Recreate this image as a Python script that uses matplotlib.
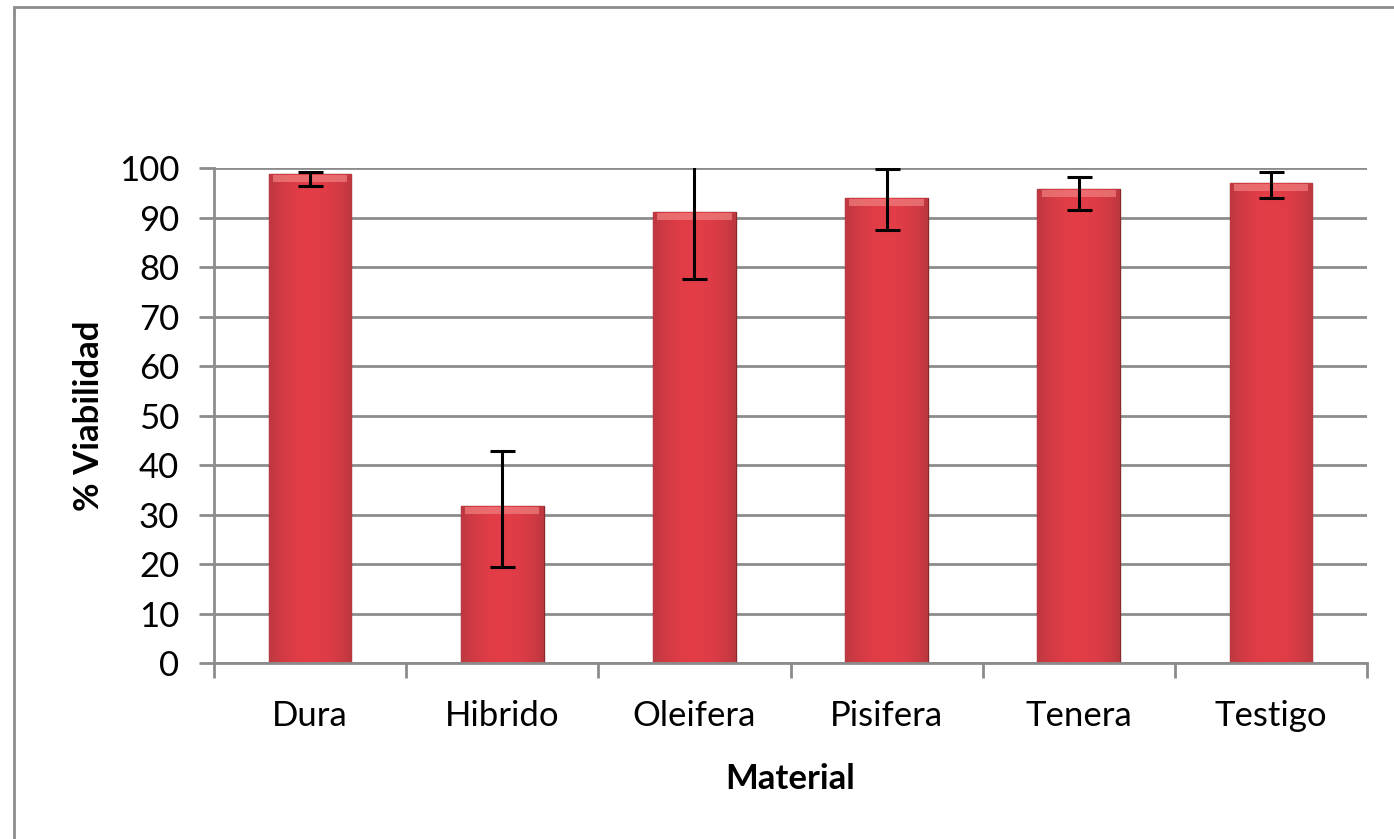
import matplotlib.pyplot as plt
from matplotlib.patches import Rectangle
import numpy as np

plt.rcParams['font.family'] = ['Lato', 'DejaVu Sans']

materials = ['Dura', 'Hibrido', 'Oleifera', 'Pisifera', 'Tenera', 'Testigo']
viabilidad = [98.9, 31.8, 91.2, 94.0, 95.9, 97.1]
err_low = [2.5, 12.4, 13.6, 6.5, 4.3, 3.1]
err_high = [0.4, 11.1, 13.6, 5.8, 2.3, 2.2]

W, H = 1394, 839
fig = plt.figure(figsize=(W / 100, H / 100), dpi=100)
fig.patch.set_facecolor('white')

# outer chart border (only left/top visible in the reference)
fig.patches.append(Rectangle((14 / W, -0.1), 1.2, (H - 7) / H + 0.1,
                             transform=fig.transFigure, fill=False,
                             edgecolor='#8c8c8c', linewidth=2))

ax = fig.add_axes([214 / W, (H - 663) / H, (1367 - 214) / W, (663 - 168.5) / H])
x = np.arange(len(materials))

# gridlines
ax.set_yticks(np.arange(0, 101, 10))
ax.yaxis.grid(True, color='#8c8c8c', linewidth=2)
ax.set_axisbelow(True)

bars = ax.bar(x, viabilidad, width=0.43, color='#cc3a3e', zorder=2,
              edgecolor='#8a2a2e', linewidth=1)

# glossy horizontal gradient clipped to each bar
grad = np.linspace(0, 1, 64)
prof = 0.45 + 0.55 * np.sin(np.pi * grad) ** 0.7
base = np.array([0.89, 0.24, 0.28])
dark = np.array([0.60, 0.20, 0.22])
img = dark[None, :] + (base - dark)[None, :] * prof[:, None]
img = img[None, :, :]
for b in bars:
    x0, w, h = b.get_x(), b.get_width(), b.get_height()
    im = ax.imshow(img, extent=(x0, x0 + w, 0, h), aspect='auto', zorder=2.1,
                   interpolation='bicubic')
    im.set_clip_path(b)
    # light bevel at the top
    ax.add_patch(Rectangle((x0 + w * 0.05, h - 1.6), w * 0.9, 1.4,
                           facecolor='#f08080', edgecolor='none', zorder=2.2,
                           alpha=0.7))
ax.set_aspect('auto')
ax.set_xlim(-0.5, len(materials) - 0.5)
ax.set_ylim(0, 100)

ax.errorbar(x, viabilidad, yerr=[err_low, err_high], fmt='none', ecolor='black',
            elinewidth=2.2, capsize=9, capthick=2.2, zorder=3)

for s in ['top', 'right']:
    ax.spines[s].set_visible(False)
ax.spines['left'].set_color('#8c8c8c')
ax.spines['left'].set_linewidth(2)
ax.spines['bottom'].set_color('#8c8c8c')
ax.spines['bottom'].set_linewidth(2)
ax.spines['bottom'].set_zorder(4)

ax.set_xticks(x)
ax.set_xticklabels(materials)
ax.set_xticks(np.arange(-0.5, len(materials), 1), minor=True)
ax.tick_params(axis='x', which='major', length=0, pad=27, labelsize=25)
ax.tick_params(axis='x', which='minor', length=11, width=2, color='#8c8c8c')
ax.tick_params(axis='y', length=11, width=2, color='#8c8c8c', labelsize=25, pad=14)

ax.set_xlabel('Material', fontsize=25, fontweight='bold', labelpad=22)
ax.set_ylabel('% Viabilidad', fontsize=25, fontweight='bold', labelpad=10)

fig.savefig('out.png', dpi=100, facecolor='white')
